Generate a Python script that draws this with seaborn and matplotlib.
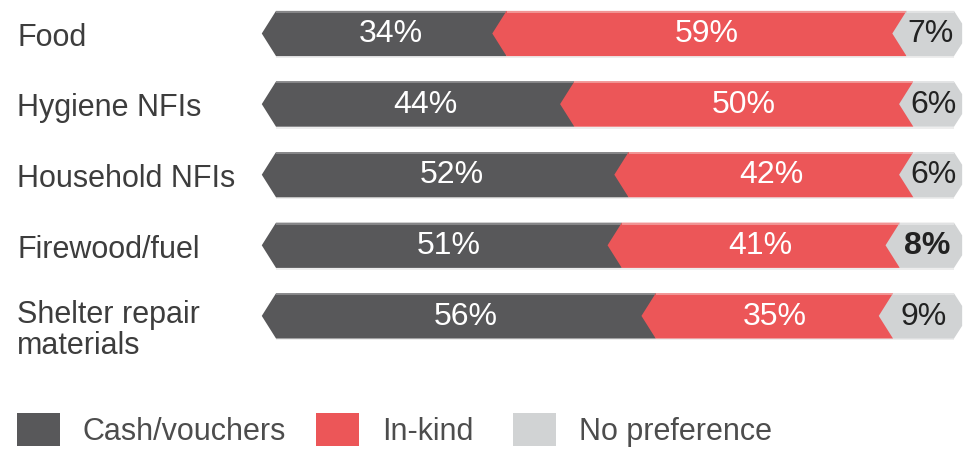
import matplotlib
matplotlib.use("Agg")
import matplotlib.pyplot as plt
from matplotlib.patches import Polygon, Patch
import pandas as pd
import seaborn as sns

# Survey answers: preferred assistance modality per item type (%)
categories = ["Food", "Hygiene NFIs", "Household NFIs", "Firewood/fuel",
              "Shelter repair\nmaterials"]
cash = [34, 44, 52, 51, 56]
in_kind = [59, 50, 42, 41, 35]
no_pref = [7, 6, 6, 8, 9]
series_names = ["Cash/vouchers", "In-kind", "No preference"]
colors = ["#58585a", "#ec5658", "#d1d3d4"]
top_edge = ["#8c8c8e", "#f29a9a", "#e3e4e5"]
label_colors = ["white", "white", "#222222"]

sns.set_theme(style="white")
plt.rcParams["font.family"] = ["Liberation Sans", "DejaVu Sans"]

fig = plt.figure(figsize=(9.65, 4.49), dpi=100)
ax = fig.add_axes([0, 0, 1, 1])

df = pd.DataFrame({"category": categories, "cash": cash,
                   "in_kind": in_kind, "no_pref": no_pref})
df["end_cash"] = df["cash"]
df["end_kind"] = df["cash"] + df["in_kind"]
df["end_all"] = df["end_kind"] + df["no_pref"]

bar_h = 0.64
# cumulative stacked bars, longest first
cum_cols = ["end_all", "end_kind", "end_cash"]
for col, color in zip(cum_cols, colors[::-1]):
    sns.barplot(data=df, y="category", x=col, color=color, width=bar_h,
                orient="h", saturation=1, ax=ax)

n = len(categories)
rects = list(ax.patches)
ends = {}
for k, col in enumerate(cum_cols):
    for i in range(n):
        r = rects[k * n + i]
        ends.setdefault(i, {})[col] = (r.get_width(), r.get_y(), r.get_height())
for r in rects:
    r.remove()

tip = 2.1      # depth of the chevron notch, in % units
bevel = 1.2    # right end bevel of the last segment

for i in range(n):
    e_cash, y0, hgt = ends[i]["end_cash"]
    e_kind = ends[i]["end_kind"][0]
    e_all = ends[i]["end_all"][0]
    yc = y0 + hgt / 2
    top, bot = y0, y0 + hgt
    segs = [(0, e_cash), (e_cash, e_kind), (e_kind, e_all)]
    vals = [cash[i], in_kind[i], no_pref[i]]
    for j, (a, b) in enumerate(segs):
        pts = [(a - tip, yc), (a, top), (b, top)]
        if j == 2:
            pts += [(b + bevel, top + hgt * 0.28), (b + bevel, bot - hgt * 0.28)]
        pts += [(b, bot), (a, bot)]
        ax.add_patch(Polygon(pts, closed=True, facecolor=colors[j],
                             edgecolor="none", zorder=2 + j))
        ax.plot([a, b], [top + 0.012, top + 0.012], color=top_edge[j],
                lw=1.3, zorder=2 + j, solid_capstyle="butt")
        ax.plot([a, b], [bot + 0.012, bot + 0.012], color="#ececec",
                lw=1.3, zorder=1.5, solid_capstyle="butt")
        ax.text((a + b) / 2, yc + 0.01, f"{vals[j]}%", ha="center", va="center",
                color=label_colors[j], fontsize=23,
                fontweight="bold" if (j == 2 and vals[j] == 8) else "normal",
                zorder=10)

# category labels on the left
for i, name in enumerate(categories):
    ypos = i + (0.21 if "\n" in name else 0.06)
    ax.text(17 / 965, ypos, name, transform=ax.get_yaxis_transform(),
            ha="left", va="center", fontsize=22, color="#3d3d3d",
            linespacing=1.05)

ax.set_xlim(-40.71, 101.62)
ax.set_ylim(5.885, -0.4745)
ax.set_axis_off()

# legend entries placed individually along the bottom
legend_x = [17, 316, 513]
for c, s, lx in zip(colors, series_names, legend_x):
    leg = fig.legend(handles=[Patch(facecolor=c, edgecolor="none", label=s)],
                     loc="center left", bbox_to_anchor=(lx / 965, 1 - 430 / 449),
                     frameon=False, fontsize=22, handlelength=1.4,
                     handleheight=1.25, handletextpad=0.75,
                     borderpad=0, borderaxespad=0)
    for t in leg.get_texts():
        t.set_color("#4d4d4d")

fig.savefig("out.png", dpi=100)
